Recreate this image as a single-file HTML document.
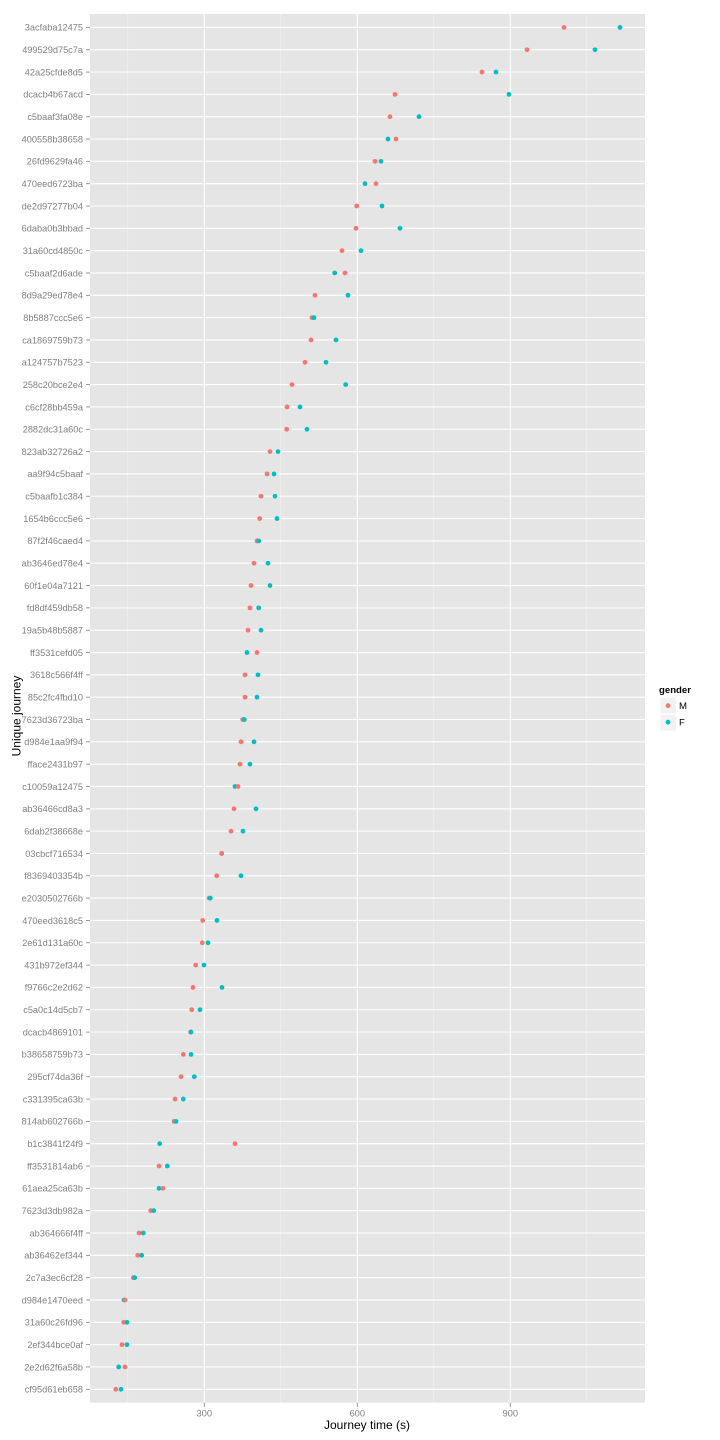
<!DOCTYPE html>
<html><head><meta charset="utf-8"><style>
html,body{margin:0;padding:0;background:#fff;}
svg{display:block;}
.l{font-family:"Liberation Sans",sans-serif;font-size:9.2px;fill:#7f7f7f;text-anchor:end;}
.m{fill:#F8766D;}
.f{fill:#00BFC4;}
</style></head><body>
<svg width="720" height="1440" viewBox="0 0 720 1440" xmlns="http://www.w3.org/2000/svg">
<rect x="0" y="0" width="720" height="1440" fill="#fff"/>
<rect x="90" y="14" width="555" height="1388.7" fill="#E5E5E5"/>
<g stroke="#F2F2F2" stroke-width="0.6">
<line x1="127.8" y1="14" x2="127.8" y2="1402.7"/>
<line x1="280.8" y1="14" x2="280.8" y2="1402.7"/>
<line x1="433.8" y1="14" x2="433.8" y2="1402.7"/>
<line x1="586.8" y1="14" x2="586.8" y2="1402.7"/>
</g>
<g stroke="#fff" stroke-width="1.1">
<line x1="204.3" y1="14" x2="204.3" y2="1402.7"/>
<line x1="357.3" y1="14" x2="357.3" y2="1402.7"/>
<line x1="510.3" y1="14" x2="510.3" y2="1402.7"/>
</g>
<g stroke="#7f7f7f" stroke-width="0.8">
<line x1="204.3" y1="1402.7" x2="204.3" y2="1407"/>
<line x1="357.3" y1="1402.7" x2="357.3" y2="1407"/>
<line x1="510.3" y1="1402.7" x2="510.3" y2="1407"/>
</g>
<g font-family="Liberation Sans, sans-serif" font-size="9.4" fill="#7f7f7f" text-anchor="middle">
<text x="204.3" y="1416.5">300</text>
<text x="357.3" y="1416.5">600</text>
<text x="510.3" y="1416.5">900</text>
</g>
<text x="367" y="1429" font-family="Liberation Sans, sans-serif" font-size="12" fill="#000" text-anchor="middle">Journey time (s)</text>
<text transform="translate(20.5,716) rotate(-90)" font-family="Liberation Sans, sans-serif" font-size="12" fill="#000" text-anchor="middle">Unique journey</text>

<g id="rows">
<g transform="translate(0,27.40)"><line x1="90" x2="645" y1="0" y2="0" stroke="#fff" stroke-width="1.1"/><line x1="86" x2="90" y1="0" y2="0" stroke="#7f7f7f" stroke-width="0.8"/><text class="l" x="83" y="3.3">3acfaba12475</text><circle class="m" cx="564" cy="0" r="2.4"/><circle class="f" cx="620" cy="0" r="2.4"/></g>
<g transform="translate(0,49.72)"><line x1="90" x2="645" y1="0" y2="0" stroke="#fff" stroke-width="1.1"/><line x1="86" x2="90" y1="0" y2="0" stroke="#7f7f7f" stroke-width="0.8"/><text class="l" x="83" y="3.3">499529d75c7a</text><circle class="m" cx="527" cy="0" r="2.4"/><circle class="f" cx="595" cy="0" r="2.4"/></g>
<g transform="translate(0,72.05)"><line x1="90" x2="645" y1="0" y2="0" stroke="#fff" stroke-width="1.1"/><line x1="86" x2="90" y1="0" y2="0" stroke="#7f7f7f" stroke-width="0.8"/><text class="l" x="83" y="3.3">42a25cfde8d5</text><circle class="m" cx="482" cy="0" r="2.4"/><circle class="f" cx="496" cy="0" r="2.4"/></g>
<g transform="translate(0,94.37)"><line x1="90" x2="645" y1="0" y2="0" stroke="#fff" stroke-width="1.1"/><line x1="86" x2="90" y1="0" y2="0" stroke="#7f7f7f" stroke-width="0.8"/><text class="l" x="83" y="3.3">dcacb4b67acd</text><circle class="m" cx="395" cy="0" r="2.4"/><circle class="f" cx="509" cy="0" r="2.4"/></g>
<g transform="translate(0,116.70)"><line x1="90" x2="645" y1="0" y2="0" stroke="#fff" stroke-width="1.1"/><line x1="86" x2="90" y1="0" y2="0" stroke="#7f7f7f" stroke-width="0.8"/><text class="l" x="83" y="3.3">c5baaf3fa08e</text><circle class="m" cx="390" cy="0" r="2.4"/><circle class="f" cx="419" cy="0" r="2.4"/></g>
<g transform="translate(0,139.03)"><line x1="90" x2="645" y1="0" y2="0" stroke="#fff" stroke-width="1.1"/><line x1="86" x2="90" y1="0" y2="0" stroke="#7f7f7f" stroke-width="0.8"/><text class="l" x="83" y="3.3">400558b38658</text><circle class="m" cx="396" cy="0" r="2.4"/><circle class="f" cx="388" cy="0" r="2.4"/></g>
<g transform="translate(0,161.35)"><line x1="90" x2="645" y1="0" y2="0" stroke="#fff" stroke-width="1.1"/><line x1="86" x2="90" y1="0" y2="0" stroke="#7f7f7f" stroke-width="0.8"/><text class="l" x="83" y="3.3">26fd9629fa46</text><circle class="m" cx="375" cy="0" r="2.4"/><circle class="f" cx="381" cy="0" r="2.4"/></g>
<g transform="translate(0,183.68)"><line x1="90" x2="645" y1="0" y2="0" stroke="#fff" stroke-width="1.1"/><line x1="86" x2="90" y1="0" y2="0" stroke="#7f7f7f" stroke-width="0.8"/><text class="l" x="83" y="3.3">470eed6723ba</text><circle class="m" cx="376" cy="0" r="2.4"/><circle class="f" cx="365" cy="0" r="2.4"/></g>
<g transform="translate(0,206.00)"><line x1="90" x2="645" y1="0" y2="0" stroke="#fff" stroke-width="1.1"/><line x1="86" x2="90" y1="0" y2="0" stroke="#7f7f7f" stroke-width="0.8"/><text class="l" x="83" y="3.3">de2d97277b04</text><circle class="m" cx="356.7" cy="0" r="2.4"/><circle class="f" cx="382" cy="0" r="2.4"/></g>
<g transform="translate(0,228.33)"><line x1="90" x2="645" y1="0" y2="0" stroke="#fff" stroke-width="1.1"/><line x1="86" x2="90" y1="0" y2="0" stroke="#7f7f7f" stroke-width="0.8"/><text class="l" x="83" y="3.3">6daba0b3bbad</text><circle class="m" cx="356" cy="0" r="2.4"/><circle class="f" cx="400" cy="0" r="2.4"/></g>
<g transform="translate(0,250.66)"><line x1="90" x2="645" y1="0" y2="0" stroke="#fff" stroke-width="1.1"/><line x1="86" x2="90" y1="0" y2="0" stroke="#7f7f7f" stroke-width="0.8"/><text class="l" x="83" y="3.3">31a60cd4850c</text><circle class="m" cx="342" cy="0" r="2.4"/><circle class="f" cx="361" cy="0" r="2.4"/></g>
<g transform="translate(0,272.98)"><line x1="90" x2="645" y1="0" y2="0" stroke="#fff" stroke-width="1.1"/><line x1="86" x2="90" y1="0" y2="0" stroke="#7f7f7f" stroke-width="0.8"/><text class="l" x="83" y="3.3">c5baaf2d6ade</text><circle class="m" cx="345" cy="0" r="2.4"/><circle class="f" cx="334.7" cy="0" r="2.4"/></g>
<g transform="translate(0,295.31)"><line x1="90" x2="645" y1="0" y2="0" stroke="#fff" stroke-width="1.1"/><line x1="86" x2="90" y1="0" y2="0" stroke="#7f7f7f" stroke-width="0.8"/><text class="l" x="83" y="3.3">8d9a29ed78e4</text><circle class="m" cx="315" cy="0" r="2.4"/><circle class="f" cx="348" cy="0" r="2.4"/></g>
<g transform="translate(0,317.63)"><line x1="90" x2="645" y1="0" y2="0" stroke="#fff" stroke-width="1.1"/><line x1="86" x2="90" y1="0" y2="0" stroke="#7f7f7f" stroke-width="0.8"/><text class="l" x="83" y="3.3">8b5887ccc5e6</text><circle class="m" cx="312" cy="0" r="2.4"/><circle class="f" cx="314" cy="0" r="2.4"/></g>
<g transform="translate(0,339.96)"><line x1="90" x2="645" y1="0" y2="0" stroke="#fff" stroke-width="1.1"/><line x1="86" x2="90" y1="0" y2="0" stroke="#7f7f7f" stroke-width="0.8"/><text class="l" x="83" y="3.3">ca1869759b73</text><circle class="m" cx="311" cy="0" r="2.4"/><circle class="f" cx="336" cy="0" r="2.4"/></g>
<g transform="translate(0,362.29)"><line x1="90" x2="645" y1="0" y2="0" stroke="#fff" stroke-width="1.1"/><line x1="86" x2="90" y1="0" y2="0" stroke="#7f7f7f" stroke-width="0.8"/><text class="l" x="83" y="3.3">a124757b7523</text><circle class="m" cx="305" cy="0" r="2.4"/><circle class="f" cx="326" cy="0" r="2.4"/></g>
<g transform="translate(0,384.61)"><line x1="90" x2="645" y1="0" y2="0" stroke="#fff" stroke-width="1.1"/><line x1="86" x2="90" y1="0" y2="0" stroke="#7f7f7f" stroke-width="0.8"/><text class="l" x="83" y="3.3">258c20bce2e4</text><circle class="m" cx="292" cy="0" r="2.4"/><circle class="f" cx="345.7" cy="0" r="2.4"/></g>
<g transform="translate(0,406.94)"><line x1="90" x2="645" y1="0" y2="0" stroke="#fff" stroke-width="1.1"/><line x1="86" x2="90" y1="0" y2="0" stroke="#7f7f7f" stroke-width="0.8"/><text class="l" x="83" y="3.3">c6cf28bb459a</text><circle class="m" cx="287" cy="0" r="2.4"/><circle class="f" cx="300" cy="0" r="2.4"/></g>
<g transform="translate(0,429.26)"><line x1="90" x2="645" y1="0" y2="0" stroke="#fff" stroke-width="1.1"/><line x1="86" x2="90" y1="0" y2="0" stroke="#7f7f7f" stroke-width="0.8"/><text class="l" x="83" y="3.3">2882dc31a60c</text><circle class="m" cx="286.7" cy="0" r="2.4"/><circle class="f" cx="307" cy="0" r="2.4"/></g>
<g transform="translate(0,451.59)"><line x1="90" x2="645" y1="0" y2="0" stroke="#fff" stroke-width="1.1"/><line x1="86" x2="90" y1="0" y2="0" stroke="#7f7f7f" stroke-width="0.8"/><text class="l" x="83" y="3.3">823ab32726a2</text><circle class="m" cx="270" cy="0" r="2.4"/><circle class="f" cx="278" cy="0" r="2.4"/></g>
<g transform="translate(0,473.92)"><line x1="90" x2="645" y1="0" y2="0" stroke="#fff" stroke-width="1.1"/><line x1="86" x2="90" y1="0" y2="0" stroke="#7f7f7f" stroke-width="0.8"/><text class="l" x="83" y="3.3">aa9f94c5baaf</text><circle class="m" cx="267" cy="0" r="2.4"/><circle class="f" cx="274" cy="0" r="2.4"/></g>
<g transform="translate(0,496.24)"><line x1="90" x2="645" y1="0" y2="0" stroke="#fff" stroke-width="1.1"/><line x1="86" x2="90" y1="0" y2="0" stroke="#7f7f7f" stroke-width="0.8"/><text class="l" x="83" y="3.3">c5baafb1c384</text><circle class="m" cx="261" cy="0" r="2.4"/><circle class="f" cx="275" cy="0" r="2.4"/></g>
<g transform="translate(0,518.57)"><line x1="90" x2="645" y1="0" y2="0" stroke="#fff" stroke-width="1.1"/><line x1="86" x2="90" y1="0" y2="0" stroke="#7f7f7f" stroke-width="0.8"/><text class="l" x="83" y="3.3">1654b6ccc5e6</text><circle class="m" cx="259.7" cy="0" r="2.4"/><circle class="f" cx="277" cy="0" r="2.4"/></g>
<g transform="translate(0,540.89)"><line x1="90" x2="645" y1="0" y2="0" stroke="#fff" stroke-width="1.1"/><line x1="86" x2="90" y1="0" y2="0" stroke="#7f7f7f" stroke-width="0.8"/><text class="l" x="83" y="3.3">87f2f46caed4</text><circle class="m" cx="257" cy="0" r="2.4"/><circle class="f" cx="258.7" cy="0" r="2.4"/></g>
<g transform="translate(0,563.22)"><line x1="90" x2="645" y1="0" y2="0" stroke="#fff" stroke-width="1.1"/><line x1="86" x2="90" y1="0" y2="0" stroke="#7f7f7f" stroke-width="0.8"/><text class="l" x="83" y="3.3">ab3646ed78e4</text><circle class="m" cx="254" cy="0" r="2.4"/><circle class="f" cx="268" cy="0" r="2.4"/></g>
<g transform="translate(0,585.55)"><line x1="90" x2="645" y1="0" y2="0" stroke="#fff" stroke-width="1.1"/><line x1="86" x2="90" y1="0" y2="0" stroke="#7f7f7f" stroke-width="0.8"/><text class="l" x="83" y="3.3">60f1e04a7121</text><circle class="m" cx="251" cy="0" r="2.4"/><circle class="f" cx="270" cy="0" r="2.4"/></g>
<g transform="translate(0,607.87)"><line x1="90" x2="645" y1="0" y2="0" stroke="#fff" stroke-width="1.1"/><line x1="86" x2="90" y1="0" y2="0" stroke="#7f7f7f" stroke-width="0.8"/><text class="l" x="83" y="3.3">fd8df459db58</text><circle class="m" cx="250" cy="0" r="2.4"/><circle class="f" cx="258.7" cy="0" r="2.4"/></g>
<g transform="translate(0,630.20)"><line x1="90" x2="645" y1="0" y2="0" stroke="#fff" stroke-width="1.1"/><line x1="86" x2="90" y1="0" y2="0" stroke="#7f7f7f" stroke-width="0.8"/><text class="l" x="83" y="3.3">19a5b48b5887</text><circle class="m" cx="248" cy="0" r="2.4"/><circle class="f" cx="261" cy="0" r="2.4"/></g>
<g transform="translate(0,652.52)"><line x1="90" x2="645" y1="0" y2="0" stroke="#fff" stroke-width="1.1"/><line x1="86" x2="90" y1="0" y2="0" stroke="#7f7f7f" stroke-width="0.8"/><text class="l" x="83" y="3.3">ff3531cefd05</text><circle class="m" cx="257" cy="0" r="2.4"/><circle class="f" cx="247" cy="0" r="2.4"/></g>
<g transform="translate(0,674.85)"><line x1="90" x2="645" y1="0" y2="0" stroke="#fff" stroke-width="1.1"/><line x1="86" x2="90" y1="0" y2="0" stroke="#7f7f7f" stroke-width="0.8"/><text class="l" x="83" y="3.3">3618c566f4ff</text><circle class="m" cx="245" cy="0" r="2.4"/><circle class="f" cx="258" cy="0" r="2.4"/></g>
<g transform="translate(0,697.18)"><line x1="90" x2="645" y1="0" y2="0" stroke="#fff" stroke-width="1.1"/><line x1="86" x2="90" y1="0" y2="0" stroke="#7f7f7f" stroke-width="0.8"/><text class="l" x="83" y="3.3">85c2fc4fbd10</text><circle class="m" cx="245" cy="0" r="2.4"/><circle class="f" cx="257" cy="0" r="2.4"/></g>
<g transform="translate(0,719.50)"><line x1="90" x2="645" y1="0" y2="0" stroke="#fff" stroke-width="1.1"/><line x1="86" x2="90" y1="0" y2="0" stroke="#7f7f7f" stroke-width="0.8"/><text class="l" x="83" y="3.3">7623d36723ba</text><circle class="m" cx="242.7" cy="0" r="2.4"/><circle class="f" cx="244.3" cy="0" r="2.4"/></g>
<g transform="translate(0,741.83)"><line x1="90" x2="645" y1="0" y2="0" stroke="#fff" stroke-width="1.1"/><line x1="86" x2="90" y1="0" y2="0" stroke="#7f7f7f" stroke-width="0.8"/><text class="l" x="83" y="3.3">d984e1aa9f94</text><circle class="m" cx="241" cy="0" r="2.4"/><circle class="f" cx="254" cy="0" r="2.4"/></g>
<g transform="translate(0,764.15)"><line x1="90" x2="645" y1="0" y2="0" stroke="#fff" stroke-width="1.1"/><line x1="86" x2="90" y1="0" y2="0" stroke="#7f7f7f" stroke-width="0.8"/><text class="l" x="83" y="3.3">fface2431b97</text><circle class="m" cx="240" cy="0" r="2.4"/><circle class="f" cx="250" cy="0" r="2.4"/></g>
<g transform="translate(0,786.48)"><line x1="90" x2="645" y1="0" y2="0" stroke="#fff" stroke-width="1.1"/><line x1="86" x2="90" y1="0" y2="0" stroke="#7f7f7f" stroke-width="0.8"/><text class="l" x="83" y="3.3">c10059a12475</text><circle class="f" cx="235" cy="0" r="2.4"/><circle class="m" cx="238" cy="0" r="2.4"/></g>
<g transform="translate(0,808.81)"><line x1="90" x2="645" y1="0" y2="0" stroke="#fff" stroke-width="1.1"/><line x1="86" x2="90" y1="0" y2="0" stroke="#7f7f7f" stroke-width="0.8"/><text class="l" x="83" y="3.3">ab36466cd8a3</text><circle class="m" cx="234" cy="0" r="2.4"/><circle class="f" cx="256" cy="0" r="2.4"/></g>
<g transform="translate(0,831.13)"><line x1="90" x2="645" y1="0" y2="0" stroke="#fff" stroke-width="1.1"/><line x1="86" x2="90" y1="0" y2="0" stroke="#7f7f7f" stroke-width="0.8"/><text class="l" x="83" y="3.3">6dab2f38668e</text><circle class="m" cx="231" cy="0" r="2.4"/><circle class="f" cx="243" cy="0" r="2.4"/></g>
<g transform="translate(0,853.46)"><line x1="90" x2="645" y1="0" y2="0" stroke="#fff" stroke-width="1.1"/><line x1="86" x2="90" y1="0" y2="0" stroke="#7f7f7f" stroke-width="0.8"/><text class="l" x="83" y="3.3">03cbcf716534</text><circle class="f" cx="221.7" cy="0" r="2.4"/><circle class="m" cx="221.7" cy="0" r="2.4"/></g>
<g transform="translate(0,875.78)"><line x1="90" x2="645" y1="0" y2="0" stroke="#fff" stroke-width="1.1"/><line x1="86" x2="90" y1="0" y2="0" stroke="#7f7f7f" stroke-width="0.8"/><text class="l" x="83" y="3.3">f8369403354b</text><circle class="m" cx="216.7" cy="0" r="2.4"/><circle class="f" cx="241" cy="0" r="2.4"/></g>
<g transform="translate(0,898.11)"><line x1="90" x2="645" y1="0" y2="0" stroke="#fff" stroke-width="1.1"/><line x1="86" x2="90" y1="0" y2="0" stroke="#7f7f7f" stroke-width="0.8"/><text class="l" x="83" y="3.3">e2030502766b</text><circle class="m" cx="209" cy="0" r="2.4"/><circle class="f" cx="210.3" cy="0" r="2.4"/></g>
<g transform="translate(0,920.44)"><line x1="90" x2="645" y1="0" y2="0" stroke="#fff" stroke-width="1.1"/><line x1="86" x2="90" y1="0" y2="0" stroke="#7f7f7f" stroke-width="0.8"/><text class="l" x="83" y="3.3">470eed3618c5</text><circle class="m" cx="202.7" cy="0" r="2.4"/><circle class="f" cx="217" cy="0" r="2.4"/></g>
<g transform="translate(0,942.76)"><line x1="90" x2="645" y1="0" y2="0" stroke="#fff" stroke-width="1.1"/><line x1="86" x2="90" y1="0" y2="0" stroke="#7f7f7f" stroke-width="0.8"/><text class="l" x="83" y="3.3">2e61d131a60c</text><circle class="m" cx="202.3" cy="0" r="2.4"/><circle class="f" cx="208" cy="0" r="2.4"/></g>
<g transform="translate(0,965.09)"><line x1="90" x2="645" y1="0" y2="0" stroke="#fff" stroke-width="1.1"/><line x1="86" x2="90" y1="0" y2="0" stroke="#7f7f7f" stroke-width="0.8"/><text class="l" x="83" y="3.3">431b972ef344</text><circle class="m" cx="195.7" cy="0" r="2.4"/><circle class="f" cx="204" cy="0" r="2.4"/></g>
<g transform="translate(0,987.41)"><line x1="90" x2="645" y1="0" y2="0" stroke="#fff" stroke-width="1.1"/><line x1="86" x2="90" y1="0" y2="0" stroke="#7f7f7f" stroke-width="0.8"/><text class="l" x="83" y="3.3">f9766c2e2d62</text><circle class="m" cx="193" cy="0" r="2.4"/><circle class="f" cx="222" cy="0" r="2.4"/></g>
<g transform="translate(0,1009.74)"><line x1="90" x2="645" y1="0" y2="0" stroke="#fff" stroke-width="1.1"/><line x1="86" x2="90" y1="0" y2="0" stroke="#7f7f7f" stroke-width="0.8"/><text class="l" x="83" y="3.3">c5a0c14d5cb7</text><circle class="m" cx="191.7" cy="0" r="2.4"/><circle class="f" cx="200" cy="0" r="2.4"/></g>
<g transform="translate(0,1032.07)"><line x1="90" x2="645" y1="0" y2="0" stroke="#fff" stroke-width="1.1"/><line x1="86" x2="90" y1="0" y2="0" stroke="#7f7f7f" stroke-width="0.8"/><text class="l" x="83" y="3.3">dcacb4869101</text><circle class="m" cx="190.7" cy="0" r="2.4"/><circle class="f" cx="191" cy="0" r="2.4"/></g>
<g transform="translate(0,1054.39)"><line x1="90" x2="645" y1="0" y2="0" stroke="#fff" stroke-width="1.1"/><line x1="86" x2="90" y1="0" y2="0" stroke="#7f7f7f" stroke-width="0.8"/><text class="l" x="83" y="3.3">b38658759b73</text><circle class="m" cx="183.3" cy="0" r="2.4"/><circle class="f" cx="191" cy="0" r="2.4"/></g>
<g transform="translate(0,1076.72)"><line x1="90" x2="645" y1="0" y2="0" stroke="#fff" stroke-width="1.1"/><line x1="86" x2="90" y1="0" y2="0" stroke="#7f7f7f" stroke-width="0.8"/><text class="l" x="83" y="3.3">295cf74da36f</text><circle class="m" cx="181" cy="0" r="2.4"/><circle class="f" cx="194.3" cy="0" r="2.4"/></g>
<g transform="translate(0,1099.04)"><line x1="90" x2="645" y1="0" y2="0" stroke="#fff" stroke-width="1.1"/><line x1="86" x2="90" y1="0" y2="0" stroke="#7f7f7f" stroke-width="0.8"/><text class="l" x="83" y="3.3">c331395ca63b</text><circle class="m" cx="175" cy="0" r="2.4"/><circle class="f" cx="183.3" cy="0" r="2.4"/></g>
<g transform="translate(0,1121.37)"><line x1="90" x2="645" y1="0" y2="0" stroke="#fff" stroke-width="1.1"/><line x1="86" x2="90" y1="0" y2="0" stroke="#7f7f7f" stroke-width="0.8"/><text class="l" x="83" y="3.3">814ab602766b</text><circle class="m" cx="174" cy="0" r="2.4"/><circle class="f" cx="176" cy="0" r="2.4"/></g>
<g transform="translate(0,1143.70)"><line x1="90" x2="645" y1="0" y2="0" stroke="#fff" stroke-width="1.1"/><line x1="86" x2="90" y1="0" y2="0" stroke="#7f7f7f" stroke-width="0.8"/><text class="l" x="83" y="3.3">b1c3841f24f9</text><circle class="m" cx="235" cy="0" r="2.4"/><circle class="f" cx="159.7" cy="0" r="2.4"/></g>
<g transform="translate(0,1166.02)"><line x1="90" x2="645" y1="0" y2="0" stroke="#fff" stroke-width="1.1"/><line x1="86" x2="90" y1="0" y2="0" stroke="#7f7f7f" stroke-width="0.8"/><text class="l" x="83" y="3.3">ff3531814ab6</text><circle class="m" cx="159" cy="0" r="2.4"/><circle class="f" cx="167.3" cy="0" r="2.4"/></g>
<g transform="translate(0,1188.35)"><line x1="90" x2="645" y1="0" y2="0" stroke="#fff" stroke-width="1.1"/><line x1="86" x2="90" y1="0" y2="0" stroke="#7f7f7f" stroke-width="0.8"/><text class="l" x="83" y="3.3">61aea25ca63b</text><circle class="f" cx="159" cy="0" r="2.4"/><circle class="m" cx="163" cy="0" r="2.4"/></g>
<g transform="translate(0,1210.67)"><line x1="90" x2="645" y1="0" y2="0" stroke="#fff" stroke-width="1.1"/><line x1="86" x2="90" y1="0" y2="0" stroke="#7f7f7f" stroke-width="0.8"/><text class="l" x="83" y="3.3">7623d3db982a</text><circle class="m" cx="150.7" cy="0" r="2.4"/><circle class="f" cx="153.7" cy="0" r="2.4"/></g>
<g transform="translate(0,1233.00)"><line x1="90" x2="645" y1="0" y2="0" stroke="#fff" stroke-width="1.1"/><line x1="86" x2="90" y1="0" y2="0" stroke="#7f7f7f" stroke-width="0.8"/><text class="l" x="83" y="3.3">ab364666f4ff</text><circle class="m" cx="139" cy="0" r="2.4"/><circle class="f" cx="143.3" cy="0" r="2.4"/></g>
<g transform="translate(0,1255.33)"><line x1="90" x2="645" y1="0" y2="0" stroke="#fff" stroke-width="1.1"/><line x1="86" x2="90" y1="0" y2="0" stroke="#7f7f7f" stroke-width="0.8"/><text class="l" x="83" y="3.3">ab36462ef344</text><circle class="m" cx="137.7" cy="0" r="2.4"/><circle class="f" cx="141.7" cy="0" r="2.4"/></g>
<g transform="translate(0,1277.65)"><line x1="90" x2="645" y1="0" y2="0" stroke="#fff" stroke-width="1.1"/><line x1="86" x2="90" y1="0" y2="0" stroke="#7f7f7f" stroke-width="0.8"/><text class="l" x="83" y="3.3">2c7a3ec6cf28</text><circle class="m" cx="133.3" cy="0" r="2.4"/><circle class="f" cx="134.7" cy="0" r="2.4"/></g>
<g transform="translate(0,1299.98)"><line x1="90" x2="645" y1="0" y2="0" stroke="#fff" stroke-width="1.1"/><line x1="86" x2="90" y1="0" y2="0" stroke="#7f7f7f" stroke-width="0.8"/><text class="l" x="83" y="3.3">d984e1470eed</text><circle class="f" cx="124" cy="0" r="2.4"/><circle class="m" cx="125" cy="0" r="2.4"/></g>
<g transform="translate(0,1322.30)"><line x1="90" x2="645" y1="0" y2="0" stroke="#fff" stroke-width="1.1"/><line x1="86" x2="90" y1="0" y2="0" stroke="#7f7f7f" stroke-width="0.8"/><text class="l" x="83" y="3.3">31a60c26fd96</text><circle class="m" cx="123.7" cy="0" r="2.4"/><circle class="f" cx="127" cy="0" r="2.4"/></g>
<g transform="translate(0,1344.63)"><line x1="90" x2="645" y1="0" y2="0" stroke="#fff" stroke-width="1.1"/><line x1="86" x2="90" y1="0" y2="0" stroke="#7f7f7f" stroke-width="0.8"/><text class="l" x="83" y="3.3">2ef344bce0af</text><circle class="m" cx="122" cy="0" r="2.4"/><circle class="f" cx="127" cy="0" r="2.4"/></g>
<g transform="translate(0,1366.96)"><line x1="90" x2="645" y1="0" y2="0" stroke="#fff" stroke-width="1.1"/><line x1="86" x2="90" y1="0" y2="0" stroke="#7f7f7f" stroke-width="0.8"/><text class="l" x="83" y="3.3">2e2d62f6a58b</text><circle class="m" cx="125" cy="0" r="2.4"/><circle class="f" cx="118.7" cy="0" r="2.4"/></g>
<g transform="translate(0,1389.28)"><line x1="90" x2="645" y1="0" y2="0" stroke="#fff" stroke-width="1.1"/><line x1="86" x2="90" y1="0" y2="0" stroke="#7f7f7f" stroke-width="0.8"/><text class="l" x="83" y="3.3">cf95d61eb658</text><circle class="m" cx="115.7" cy="0" r="2.4"/><circle class="f" cx="121" cy="0" r="2.4"/></g>
</g>

<!-- legend -->
<text x="659" y="693" font-family="Liberation Sans, sans-serif" font-size="9.6" font-weight="bold" fill="#000">gender</text>
<rect x="660" y="697.5" width="16.5" height="16.5" fill="#F2F2F2" stroke="#fff" stroke-width="0.8"/>
<rect x="660" y="714.5" width="16.5" height="16.5" fill="#F2F2F2" stroke="#fff" stroke-width="0.8"/>
<circle class="m" cx="668" cy="705.7" r="2.4"/>
<circle class="f" cx="668" cy="722.2" r="2.4"/>
<text x="679" y="709.2" font-family="Liberation Sans, sans-serif" font-size="9.6" fill="#000">M</text>
<text x="679" y="725.7" font-family="Liberation Sans, sans-serif" font-size="9.6" fill="#000">F</text>
</svg>
</body></html>
